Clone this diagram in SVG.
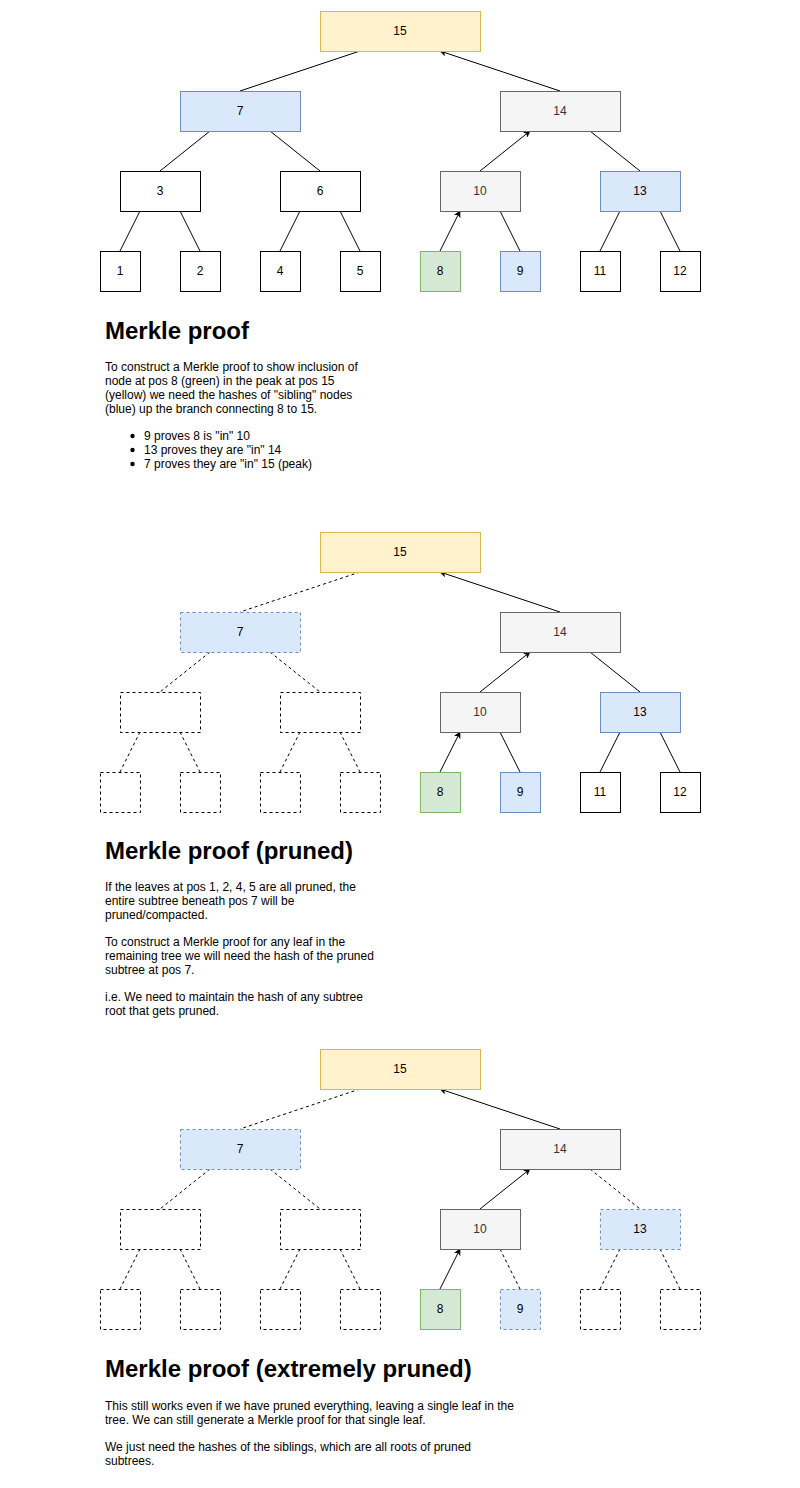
<svg xmlns="http://www.w3.org/2000/svg" width="800" height="1488" viewBox="0 0 800 1488">
<defs>
<marker id="arr" viewBox="0 0 10 10" refX="9" refY="5" markerWidth="7" markerHeight="7" markerUnits="userSpaceOnUse" orient="auto"><path d="M0,0 L10,5 L0,10 L2.5,5 Z" fill="#000"/></marker>
<style>
.n rect{stroke-width:1}
.w rect{fill:#fff;stroke:#000}
.y rect{fill:#fff2cc;stroke:#d6b656}
.b rect{fill:#dae8fc;stroke:#6c8ebf}
.g rect{fill:#f5f5f5;stroke:#666}
.gr rect{fill:#d5e8d4;stroke:#82b366}
.d rect{stroke-dasharray:3 3}
.n text{font-family:"Liberation Sans",Arial,sans-serif;font-size:12px;text-anchor:middle;fill:#000}
.g text{fill:#333}
.e line{stroke:#000;stroke-width:1;fill:none}
.e line.d{stroke-dasharray:3 3}
.e line.a{marker-end:url(#arr)}
.h{font-family:"Liberation Sans",Arial,sans-serif;font-size:24px;font-weight:bold;fill:#000}
.p{font-family:"Liberation Sans",Arial,sans-serif;font-size:12px;fill:#000}
</style>
</defs>
<rect width="800" height="1488" fill="#fff"/>

<!-- Tree 1 -->
<g id="edges1" class="e">
<line x1="360" y1="51" x2="240" y2="91"/>
<line class="a" x1="560" y1="91" x2="440" y2="51"/>
<line x1="210" y1="131" x2="160" y2="171"/>
<line x1="270" y1="131" x2="320" y2="171"/>
<line class="a" x1="480" y1="171" x2="530" y2="131"/>
<line x1="590" y1="131" x2="640" y2="171"/>
<line x1="140" y1="211" x2="120" y2="251"/>
<line x1="180" y1="211" x2="200" y2="251"/>
<line x1="300" y1="211" x2="280" y2="251"/>
<line x1="340" y1="211" x2="360" y2="251"/>
<line class="a" x1="440" y1="251" x2="460" y2="211"/>
<line x1="500" y1="211" x2="520" y2="251"/>
<line x1="620" y1="211" x2="600" y2="251"/>
<line x1="660" y1="211" x2="680" y2="251"/>
</g>
<g id="t1n15" class="n y"><rect x="320.5" y="11.5" width="160" height="40"/><text x="400" y="35">15</text></g>
<g id="t1n7" class="n b"><rect x="180.5" y="91.5" width="120" height="40"/><text x="240" y="115">7</text></g>
<g id="t1n14" class="n g"><rect x="500.5" y="91.5" width="120" height="40"/><text x="560" y="115">14</text></g>
<g id="t1n3" class="n w"><rect x="120.5" y="171.5" width="80" height="40"/><text x="160" y="195">3</text></g>
<g id="t1n6" class="n w"><rect x="280.5" y="171.5" width="80" height="40"/><text x="320" y="195">6</text></g>
<g id="t1n10" class="n g"><rect x="440.5" y="171.5" width="80" height="40"/><text x="480" y="195">10</text></g>
<g id="t1n13" class="n b"><rect x="600.5" y="171.5" width="80" height="40"/><text x="640" y="195">13</text></g>
<g id="t1n1" class="n w"><rect x="100.5" y="251.5" width="40" height="40"/><text x="120" y="275">1</text></g>
<g id="t1n2" class="n w"><rect x="180.5" y="251.5" width="40" height="40"/><text x="200" y="275">2</text></g>
<g id="t1n4" class="n w"><rect x="260.5" y="251.5" width="40" height="40"/><text x="280" y="275">4</text></g>
<g id="t1n5" class="n w"><rect x="340.5" y="251.5" width="40" height="40"/><text x="360" y="275">5</text></g>
<g id="t1n8" class="n gr"><rect x="420.5" y="251.5" width="40" height="40"/><text x="440" y="275">8</text></g>
<g id="t1n9" class="n b"><rect x="500.5" y="251.5" width="40" height="40"/><text x="520" y="275">9</text></g>
<g id="t1n11" class="n w"><rect x="580.5" y="251.5" width="40" height="40"/><text x="600" y="275">11</text></g>
<g id="t1n12" class="n w"><rect x="660.5" y="251.5" width="40" height="40"/><text x="680" y="275">12</text></g>

<g id="text1">
<text class="h" x="105" y="339">Merkle proof</text>
<text class="p" x="105" y="371">To construct a Merkle proof to show inclusion of</text>
<text class="p" x="105" y="385">node at pos 8 (green) in the peak at pos 15</text>
<text class="p" x="105" y="399">(yellow) we need the hashes of "sibling" nodes</text>
<text class="p" x="105" y="413">(blue) up the branch connecting 8 to 15.</text>
<circle cx="132.5" cy="436" r="2.2" fill="#000"/>
<circle cx="132.5" cy="450" r="2.2" fill="#000"/>
<circle cx="132.5" cy="464" r="2.2" fill="#000"/>
<text class="p" x="144" y="440">9 proves 8 is "in" 10</text>
<text class="p" x="144" y="454">13 proves they are "in" 14</text>
<text class="p" x="144" y="468">7 proves they are "in" 15 (peak)</text>
</g>

<!-- Tree 2 -->
<g id="edges2" class="e" transform="translate(0,521)">
<line class="d" x1="360" y1="51" x2="240" y2="91"/>
<line class="a" x1="560" y1="91" x2="440" y2="51"/>
<line class="d" x1="210" y1="131" x2="160" y2="171"/>
<line class="d" x1="270" y1="131" x2="320" y2="171"/>
<line class="a" x1="480" y1="171" x2="530" y2="131"/>
<line x1="590" y1="131" x2="640" y2="171"/>
<line class="d" x1="140" y1="211" x2="120" y2="251"/>
<line class="d" x1="180" y1="211" x2="200" y2="251"/>
<line class="d" x1="300" y1="211" x2="280" y2="251"/>
<line class="d" x1="340" y1="211" x2="360" y2="251"/>
<line class="a" x1="440" y1="251" x2="460" y2="211"/>
<line x1="500" y1="211" x2="520" y2="251"/>
<line x1="620" y1="211" x2="600" y2="251"/>
<line x1="660" y1="211" x2="680" y2="251"/>
</g>
<g id="t2n15" class="n y"><rect x="320.5" y="532.5" width="160" height="40"/><text x="400" y="556">15</text></g>
<g id="t2n7" class="n b d"><rect x="180.5" y="612.5" width="120" height="40"/><text x="240" y="636">7</text></g>
<g id="t2n14" class="n g"><rect x="500.5" y="612.5" width="120" height="40"/><text x="560" y="636">14</text></g>
<g id="t2n3" class="n w d"><rect x="120.5" y="692.5" width="80" height="40"/></g>
<g id="t2n6" class="n w d"><rect x="280.5" y="692.5" width="80" height="40"/></g>
<g id="t2n10" class="n g"><rect x="440.5" y="692.5" width="80" height="40"/><text x="480" y="716">10</text></g>
<g id="t2n13" class="n b"><rect x="600.5" y="692.5" width="80" height="40"/><text x="640" y="716">13</text></g>
<g id="t2n1" class="n w d"><rect x="100.5" y="772.5" width="40" height="40"/></g>
<g id="t2n2" class="n w d"><rect x="180.5" y="772.5" width="40" height="40"/></g>
<g id="t2n4" class="n w d"><rect x="260.5" y="772.5" width="40" height="40"/></g>
<g id="t2n5" class="n w d"><rect x="340.5" y="772.5" width="40" height="40"/></g>
<g id="t2n8" class="n gr"><rect x="420.5" y="772.5" width="40" height="40"/><text x="440" y="796">8</text></g>
<g id="t2n9" class="n b"><rect x="500.5" y="772.5" width="40" height="40"/><text x="520" y="796">9</text></g>
<g id="t2n11" class="n w"><rect x="580.5" y="772.5" width="40" height="40"/><text x="600" y="796">11</text></g>
<g id="t2n12" class="n w"><rect x="660.5" y="772.5" width="40" height="40"/><text x="680" y="796">12</text></g>

<g id="text2">
<text class="h" x="105" y="859">Merkle proof (pruned)</text>
<text class="p" x="105" y="891">If the leaves at pos 1, 2, 4, 5 are all pruned, the</text>
<text class="p" x="105" y="905">entire subtree beneath pos 7 will be</text>
<text class="p" x="105" y="919">pruned/compacted.</text>
<text class="p" x="105" y="946">To construct a Merkle proof for any leaf in the</text>
<text class="p" x="105" y="960">remaining tree we will need the hash of the pruned</text>
<text class="p" x="105" y="974">subtree at pos 7.</text>
<text class="p" x="105" y="1001">i.e. We need to maintain the hash of any subtree</text>
<text class="p" x="105" y="1015">root that gets pruned.</text>
</g>

<!-- Tree 3 -->
<g id="edges3" class="e" transform="translate(0,1038)">
<line class="d" x1="360" y1="51" x2="240" y2="91"/>
<line class="a" x1="560" y1="91" x2="440" y2="51"/>
<line class="d" x1="210" y1="131" x2="160" y2="171"/>
<line class="d" x1="270" y1="131" x2="320" y2="171"/>
<line class="a" x1="480" y1="171" x2="530" y2="131"/>
<line class="d" x1="590" y1="131" x2="640" y2="171"/>
<line class="d" x1="140" y1="211" x2="120" y2="251"/>
<line class="d" x1="180" y1="211" x2="200" y2="251"/>
<line class="d" x1="300" y1="211" x2="280" y2="251"/>
<line class="d" x1="340" y1="211" x2="360" y2="251"/>
<line class="a" x1="440" y1="251" x2="460" y2="211"/>
<line class="d" x1="500" y1="211" x2="520" y2="251"/>
<line class="d" x1="620" y1="211" x2="600" y2="251"/>
<line class="d" x1="660" y1="211" x2="680" y2="251"/>
</g>
<g id="t3n15" class="n y"><rect x="320.5" y="1049.5" width="160" height="40"/><text x="400" y="1073">15</text></g>
<g id="t3n7" class="n b d"><rect x="180.5" y="1129.5" width="120" height="40"/><text x="240" y="1153">7</text></g>
<g id="t3n14" class="n g"><rect x="500.5" y="1129.5" width="120" height="40"/><text x="560" y="1153">14</text></g>
<g id="t3n3" class="n w d"><rect x="120.5" y="1209.5" width="80" height="40"/></g>
<g id="t3n6" class="n w d"><rect x="280.5" y="1209.5" width="80" height="40"/></g>
<g id="t3n10" class="n g"><rect x="440.5" y="1209.5" width="80" height="40"/><text x="480" y="1233">10</text></g>
<g id="t3n13" class="n b d"><rect x="600.5" y="1209.5" width="80" height="40"/><text x="640" y="1233">13</text></g>
<g id="t3n1" class="n w d"><rect x="100.5" y="1289.5" width="40" height="40"/></g>
<g id="t3n2" class="n w d"><rect x="180.5" y="1289.5" width="40" height="40"/></g>
<g id="t3n4" class="n w d"><rect x="260.5" y="1289.5" width="40" height="40"/></g>
<g id="t3n5" class="n w d"><rect x="340.5" y="1289.5" width="40" height="40"/></g>
<g id="t3n8" class="n gr"><rect x="420.5" y="1289.5" width="40" height="40"/><text x="440" y="1313">8</text></g>
<g id="t3n9" class="n b d"><rect x="500.5" y="1289.5" width="40" height="40"/><text x="520" y="1313">9</text></g>
<g id="t3n11" class="n w d"><rect x="580.5" y="1289.5" width="40" height="40"/></g>
<g id="t3n12" class="n w d"><rect x="660.5" y="1289.5" width="40" height="40"/></g>

<g id="text3">
<text class="h" x="105" y="1377">Merkle proof (extremely pruned)</text>
<text class="p" x="105" y="1410">This still works even if we have pruned everything, leaving a single leaf in the</text>
<text class="p" x="105" y="1424">tree. We can still generate a Merkle proof for that single leaf.</text>
<text class="p" x="105" y="1451">We just need the hashes of the siblings, which are all roots of pruned</text>
<text class="p" x="105" y="1465">subtrees.</text>
</g>
</svg>
